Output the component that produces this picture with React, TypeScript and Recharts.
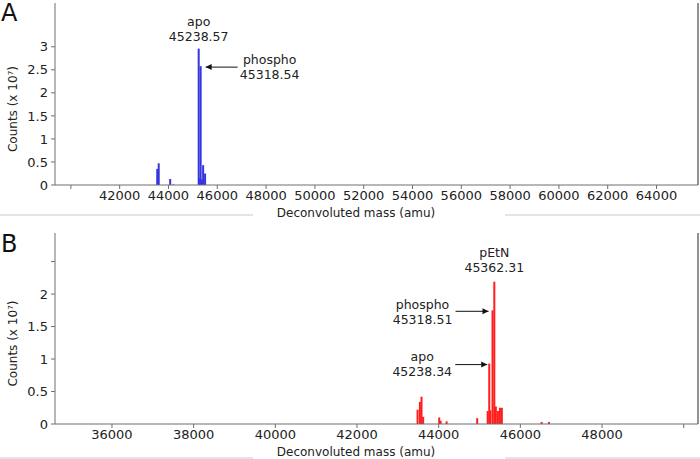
import React from "react"
import { BarChart, Bar, XAxis, YAxis, ReferenceLine, ReferenceDot, Label } from "recharts"

// Panel A (blue)
const massA = [43540, 43565, 43600, 44070, 44200, 45238.57, 45265, 45290, 45318.54, 45370, 45420, 45500]
const countsA = [0.35, 0.15, 0.47, 0.13, 0.01, 2.96, 0.15, 0.12, 2.58, 0.12, 0.43, 0.25]
const ticksAX = [40000, 42000, 44000, 46000, 48000, 50000, 52000, 54000, 56000, 58000, 60000, 62000, 64000]
const ticksAY = [0, 0.5, 1, 1.5, 2, 2.5, 3]
const hiddenA = [40000]

// Panel B (red)
const massB = [43483, 43540, 43580, 43620, 44013, 44047, 44194, 44943, 45200, 45238.34, 45265, 45318.51, 45362.31, 45400, 45450, 45500, 45547, 46520, 46700]
const countsB = [0.22, 0.34, 0.42, 0.11, 0.1, 0.05, 0.04, 0.09, 0.2, 0.93, 0.21, 1.75, 2.19, 0.27, 0.2, 0.25, 0.25, 0.03, 0.03]
const ticksBX = [36000, 38000, 40000, 42000, 44000, 46000, 48000, 50000]
const ticksBY = [0, 0.5, 1, 1.5, 2, 2.5]
const hiddenB = [50000, 2.5]

const FONT = "DejaVu Sans, Verdana, sans-serif"
const AXIS = "#6e6e6e"
const TXT = "#222"

// thin stick centred on the bar slot, fixed pixel width
const Stick = ({ x, y, width, height, fill }: any) => {
  if (height == null || height <= 0) return null
  const w = 2
  return <rect x={x + width / 2 - w / 2} y={y} width={w} height={height} fill={fill} />
}

const Annot = ({ cx, cy, lines, tx, ty, arrow }: any) => {
  return (
    <g>
      {lines.map((t: string, i: number) => (
        <text key={i} x={cx + tx} y={cy + ty + i * 15 + 4.5} textAnchor="middle" fontFamily={FONT} fontSize={12.5} fill={TXT}>
          {t}
        </text>
      ))}
      {arrow && (
        <g>
          <line x1={cx + arrow[0]} y1={cy + 1} x2={cx + arrow[1]} y2={cy + 1} stroke="#111" strokeWidth={1} />
          <polygon
            points={
              arrow[1] < arrow[0]
                ? `${cx + arrow[1]},${cy + 1} ${cx + arrow[1] + 6},${cy - 2} ${cx + arrow[1] + 6},${cy + 4}`
                : `${cx + arrow[1]},${cy + 1} ${cx + arrow[1] - 6},${cy - 2} ${cx + arrow[1] - 6},${cy + 4}`
            }
            fill="#111"
          />
        </g>
      )}
    </g>
  )
}

const YTitle = ({ viewBox }: any) => {
  const x = 13
  const y = viewBox.y + viewBox.height / 2 + 15
  return (
    <text x={x} y={y} transform={`rotate(-90, ${x}, ${y})`} textAnchor="middle" dominantBaseline="central" fontFamily={FONT} fontSize={12} fill={TXT}>
      Counts (x 10⁷)
    </text>
  )
}

const XTitle = ({ viewBox }: any) => (
  <text x={356} y={viewBox.y + 28 + 4} textAnchor="middle" fontFamily={FONT} fontSize={12} fill={TXT}>
    Deconvoluted mass (amu)
  </text>
)

const Panel = ({ data, color, xDomain, yDomain, xTicks, yTicks, hidden, height, xHeight, annots }: any) => {
  const fmt = (v: number) => (hidden.includes(v) ? "" : String(v))
  return (
    <BarChart width={700} height={height} data={data} margin={{ top: 3, right: 2, left: 0, bottom: 0 }}>
      <XAxis
        type="number"
        dataKey="mass"
        domain={xDomain}
        ticks={xTicks}
        allowDataOverflow
        tickFormatter={fmt}
        height={xHeight}
        stroke={AXIS}
        tickSize={4}
        tickMargin={2}
        tick={{ fill: TXT, fontSize: 13, fontFamily: FONT }}
      >
        <Label content={<XTitle />} />
      </XAxis>
      <YAxis
        type="number"
        domain={yDomain}
        ticks={yTicks}
        allowDataOverflow
        tickFormatter={fmt}
        width={55}
        stroke={AXIS}
        tickSize={4}
        tickMargin={3}
        tick={{ fill: TXT, fontSize: 13, fontFamily: FONT }}
      >
        <Label content={<YTitle />} />
      </YAxis>
      <ReferenceLine x={xDomain[1]} stroke={AXIS} strokeWidth={1.5} />
      <Bar dataKey="counts" fill={color} shape={<Stick />} isAnimationActive={false} />
      {annots.map((a: any, i: number) => (
        <ReferenceDot
          key={i}
          x={a.mass}
          y={a.count}
          r={0}
          shape={(p: any) => <Annot cx={p.cx} cy={p.cy} lines={a.lines} tx={a.tx} ty={a.ty} arrow={a.arrow} />}
        />
      ))}
    </BarChart>
  )
}

const dataA = massA.map((m, i) => ({ mass: m, counts: countsA[i] }))
const dataB = massB.map((m, i) => ({ mass: m, counts: countsB[i] }))

const annotsA = [
  { mass: 45238.57, count: 2.96, lines: ["apo", "45238.57"], tx: 0, ty: -27 },
  { mass: 45318.54, count: 2.58, lines: ["phospho", "45318.54"], tx: 69, ty: -7, arrow: [37, 5] },
]
const annotsB = [
  { mass: 45362.31, count: 2.19, lines: ["pEtN", "45362.31"], tx: 0, ty: -29 },
  { mass: 45318.51, count: 1.75, lines: ["phospho", "45318.51"], tx: -70, ty: -6, arrow: [-37, -4] },
  { mass: 45238.34, count: 0.93, lines: ["apo", "45238.34"], tx: -67, ty: -7, arrow: [-34, -2] },
]

const Sep = ({ top }: { top: number }) => (
  <>
    <div style={{ position: "absolute", top, left: 0, width: 253, height: 2, background: "#e4e4e4" }} />
    <div style={{ position: "absolute", top, left: 505, width: 195, height: 2, background: "#e4e4e4" }} />
  </>
)

const PanelLetter = ({ top, text }: { top: number; text: string }) => (
  <div style={{ position: "absolute", top, left: 1, fontFamily: FONT, fontSize: 24, lineHeight: "26px", color: "#111" }}>{text}</div>
)

export default function App() {
  return (
    <div style={{ position: "absolute", left: 0, top: 0, width: 700, height: 459, background: "#fff", overflow: "hidden" }}>
      <div style={{ position: "absolute", left: 0, top: 0 }}>
        <Panel
          data={dataA}
          color="#3535e0"
          xDomain={[39350, 65700]}
          yDomain={[0, 3.95]}
          xTicks={ticksAX}
          yTicks={ticksAY}
          hidden={hiddenA}
          height={230}
          xHeight={45}
          annots={annotsA}
        />
      </div>
      <div style={{ position: "absolute", left: 0, top: 230 }}>
        <Panel
          data={dataB}
          color="#ff1e1e"
          xDomain={[34605, 50350]}
          yDomain={[0, 2.94]}
          xTicks={ticksBX}
          yTicks={ticksBY}
          hidden={hiddenB}
          height={229}
          xHeight={35}
          annots={annotsB}
        />
      </div>
      <Sep top={214} />
      <Sep top={457} />
      <PanelLetter top={0} text="A" />
      <PanelLetter top={231} text="B" />
    </div>
  )
}
